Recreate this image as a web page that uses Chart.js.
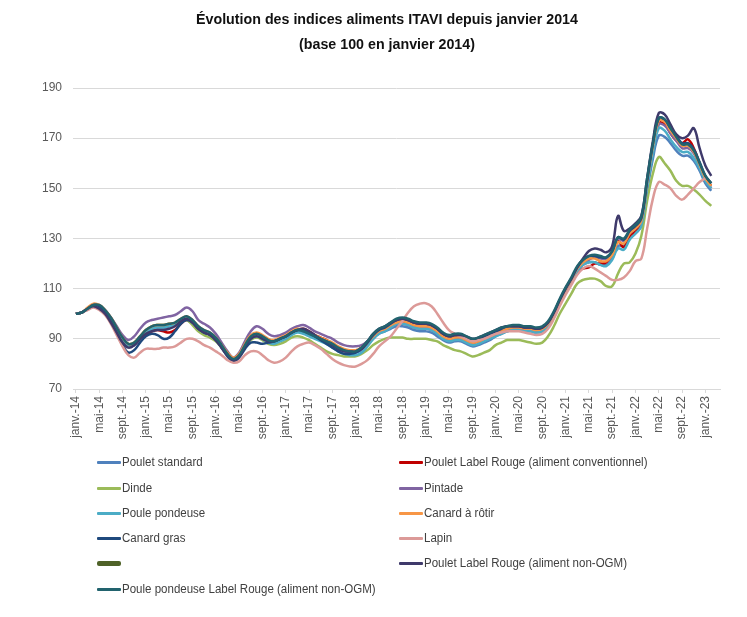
<!DOCTYPE html>
<html><head><meta charset="utf-8">
<script src="https://cdn.jsdelivr.net/npm/chart.js@4.4.0/dist/chart.umd.min.js"></script>
<style>
html,body{margin:0;padding:0;background:#fff;}
#wrap{position:relative;width:747px;height:617px;overflow:hidden;}
#c{position:absolute;left:0;top:0;}
#title{position:absolute;left:0;top:6px;width:774px;text-align:center;font-family:'Liberation Sans Narrow','Arial Narrow','Liberation Sans',sans-serif;font-weight:bold;font-size:15px;line-height:25px;color:#111;transform:scaleX(0.95);transform-origin:387px 0;}
.li{position:absolute;height:16px;font-family:'Liberation Sans Narrow','Arial Narrow','Liberation Sans',sans-serif;font-size:12px;color:#404040;white-space:nowrap;}
.li .sw{position:absolute;left:0;width:24px;}
.li .tx{position:absolute;left:25px;top:0;line-height:16px;transform:scaleX(0.96);transform-origin:0 0;}
</style></head>
<body><div id="wrap"><canvas id="c" width="747" height="617"></canvas>
<div id="title">Évolution des indices aliments ITAVI depuis janvier 2014<br>(base 100 en janvier 2014)</div>
<div id="legend"></div></div>
<script>
const monthNames = ['janv.','févr.','mars','avr.','mai','juin','juil.','août','sept.','oct.','nov.','déc.'];
const years = ['14','15','16','17','18','19','20','21','22','23'];
const categories = [];
years.forEach(y => monthNames.forEach(m => categories.push(m + '-' + y)));
categories.length = 111; // janv.-14 ... mars-23

const yTicks = [70, 90, 110, 130, 150, 170, 190];

const pouletStandard = [100,100.5,102,103,102.5,100.5,97.5,93.5,89.5,87,88,90.5,
93,94,94.5,94.5,95,95.5,97,98,96.5,94,92.5,91.5,
89.5,86.5,83.5,81.5,83,87,90.5,91.5,90.5,89,88.5,89.5,
90.5,92,93,92.5,91.5,90.5,89.5,88.5,87.5,86,85,84.5,
84.5,85.5,87.5,90,92,93,94,95,95,94.5,93.5,93,
93,92.5,91,89.5,88.5,89,89,88,87,87.5,88.5,89.5,
91,92,93,93.5,93.5,93,93,92.5,93,95,99,104,
108.5,112.5,117,119.5,120.5,120.5,119.5,119.5,122,127,127,130,
132,135,149,162,171,170.5,168,165,163,163,161,157,
152,149,null];

const pouletLRConv = [100,100.5,102,103.5,103,101,97.5,93.5,89.5,87,87.5,90,
92,93,93.5,93,92.5,93.5,96,97.5,96,94,92.5,91.5,
89.5,86.5,83.5,81.5,83.5,87.5,90.5,91.5,90.5,89,89,90,
91,92.5,93.5,94,93,91.5,90.5,89.5,88,86.5,85.5,85,
85,86,88,91,93,94,95.5,96.5,97,96.5,95.5,95,
95,94.5,93,91,90,90.5,90.5,89.5,88.5,89,90,91,
92,93,94,94.5,94.5,94,94,93.5,94,96,100,105,
109,113,117,118,118.5,120,120,120.5,124,129,126.5,131,
133,136,151,166,176,175.5,172,169,168,169.5,166,160,
154,151,null];

const dinde = [100,100.5,102,103.5,103,101,98,94,90,88,88.5,91,
93.5,95,95.5,95.5,96,96,97,97.5,95.5,93,91.5,90.5,
89,86.5,83.5,81.5,83,86.5,89.5,90.5,89.5,88,87.5,88,
89,90.5,91,90.5,89.5,88,86.5,85,84,83.5,83,83,
83,84,85.5,87.5,89,90,90.5,90.5,90.5,90,90,90,
90,89.5,89,87.5,86.5,85.5,85,84,83,83.5,84.5,85.5,
87.5,88.5,89.5,89.5,89.5,89,88.5,88,88.5,91,95,100,
104,108,112,113.5,114,114,113,111,111,116,120,120.5,
124,131,145,156,162.5,160,157,153,151,151,149.5,147.5,
145,143,null];

const pintade = [100,100.5,102,103.5,103,101.5,98.5,95,91.5,89.5,91,94,
96.5,97.5,98,98.5,99,99.5,101,102.5,101,97.5,96,94.5,
92,88.5,85,82.5,84.5,89,93,95,94,92,91,91.5,
92.5,94,95,95.5,94.5,93,92,91,90,88.5,87.5,87,
87,87.5,89,91.5,93,94,95,96,96,95.5,94.5,94,
94,93.5,92,90.5,89.5,90,90,89.5,88.5,89,90,91,
92,93,94,94,94,93.5,93.5,93,93.5,95.5,99.5,104.5,
109,113,117.5,120,121.5,122.5,122,122,124.5,130,129,132,
134,137,152,166,175.5,175,172,169,166,166,164,159,
153.5,150,null];

const poulePondeuse = [100,100.5,102,103,102.5,100.5,97.5,93.5,89.5,87,87.5,90,
92.5,94,94.5,94.5,95,95.5,97,98,96.5,94,92.5,91.5,
89.5,86.5,83.5,81.5,83,87,90,91,90,88.5,88,89,
90,91.5,92.5,92,91,90,89,88,86.5,85,84,83.5,
83.5,84.5,87,90,92,93,94.5,96,96,95.5,94.5,94,
94,93.5,92,90,89,89.5,89.5,88.5,87.5,88,89,90,
91,92,93,93.5,93.5,93,93,92.5,93,95,99,104,
108.5,112.5,117,119.5,120.5,120.5,119.5,119,121.5,126,125.5,129.5,
132,135,150,164,174,173,169.5,166.5,164.5,164.5,162,158,
153,150,null];

const canardRotir = [100,100.5,102.5,104,103.5,101.5,98.5,94.5,90.5,88,88.5,91,
93.5,95,95.5,95.5,96,96.5,98,99,97.5,95,93.5,92.5,
90.5,87.5,84.5,82.5,84,88,91.5,92.5,91.5,90,89.5,90.5,
91.5,93,94,93.5,92.5,91.5,90.5,89.5,88.5,87,86,85.5,
85.5,86.5,88.5,91,93,94,95.5,96.5,97,96.5,95.5,95,
95,94.5,93,91,90,90.5,90.5,89.5,88.5,89,90,91,
92,93,94,94.5,94.5,94,94,93.5,94,96,100,105,
109.5,113.5,118,120.5,122,122,121,121,123.5,128.5,128,132,
134,137,152.5,167,177,176.5,173,170,167,167,164.5,159.5,
154,151,null];

const canardGras = [100,100.5,102,103.5,103,100.5,97,92.5,87.5,84.5,85.5,88.5,
91,92,91.5,90,90.5,93,96,97.5,96.5,94,92.5,91.5,
89.5,86.5,83,81,82.5,86,88.5,88.5,88,88.5,89,90,
91,92.5,93.5,93.5,92.5,91,89.5,88,86.5,85,84,84,
84.5,86,88.5,91.5,93.5,94.5,96,97.5,98,97.5,96.5,96,
96,95.5,94,92,91,91.5,91.5,90.5,89.5,90,91,92,
93,94,95,95,95,94.5,94.5,94,94.5,96.5,100.5,105.5,
110,114,118.5,121.5,123,123,122.5,122.5,125,130.5,129.5,133,
135,138,153,168,178,177.5,174,171,168,168,165.5,160.5,
155,152,null];

const lapin = [100,100.5,101.5,102.5,101.5,99.5,96,91.5,87,83.5,82.5,84.5,
86,86,86,86.5,86.5,87,88.5,90,90,89,87.5,86.5,
85,83.5,81.5,80.5,81,83.5,85,85,83.5,81.5,80.5,81,
82.5,85,87,88,88.5,87.5,86,84,82,80.5,79.5,79,
79,80,81.5,84,87,89,91,94,97,100.5,103,104,
104.2,103,100,96.5,93.5,92,91,90,89,89.5,90,91,
92,92.5,93,93,93,92.5,92,91.5,92,94,98,103,
107.5,111.5,115.5,118,119,118,116.5,115,113.5,113.5,114.5,117,
121,122,134,146,152.5,151.5,150,147,145.5,147.5,150,152.5,
154,null,null];

const sansNom = [];

const pouletLRNonOGM = [100,100.5,102,103,102,100,96.5,92.5,88.5,86.5,87.5,90,
92,93,93.5,93.5,94,95,97,98,96.5,94,92.5,91.5,
89.5,86.5,83.5,81.5,83,87,90,91,90,89,89,90,
91,92.5,93.5,94,93,91.5,90,89,87.5,86,85,85,
85,86.5,89,92,94,95,96.5,97.5,98,97.5,96.5,96,
96,95.5,94,92,91,91.5,91.5,91,90,90.5,91.5,92.5,
93.5,94.5,95,95,95,94.5,94.5,94,94.5,96.5,100.5,105.5,
110,114,118.5,122,125,126,125.5,124.5,127,139,133,134,
136,139,154,169,180,179.5,175.5,171.5,170,171,174,166,
159,155,null];

const poulePondeuseLRNonOGM = [100,100.5,102,103.5,103.5,101.5,98.5,94.5,90.5,88,88.5,91,
93.5,95,95.5,95.5,96,96.5,98,99,97.5,95,93.5,92.5,
90.5,87.5,84,82,83.5,87.5,91,92,91,89.5,89,90,
91,92.5,93.5,93,92,91,90,89,88,86.5,85.5,85,
85,86.5,89,92,94,95,96.5,98,98.5,98,97,96.5,
96.5,96,94.5,92.5,91.5,92,92,91,90,90.5,91.5,92.5,
93.5,94.5,95,95.5,95.5,95,95,94.5,95,97,101,106,
110.5,114.5,119,121.5,123,123.5,123,122.5,125,130.5,130,133.5,
135.5,138.5,154,168,178,177.5,174,170.5,167.5,167.5,165,160,
155,152,null];

const seriesNames = ['Poulet standard','Poulet Label Rouge (aliment conventionnel)','Dinde','Pintade','Poule pondeuse','Canard à rôtir','Canard gras','Lapin','','Poulet Label Rouge (aliment non-OGM)','Poule pondeuse Label Rouge (aliment non-OGM)'];
const seriesData = [pouletStandard,pouletLRConv,dinde,pintade,poulePondeuse,canardRotir,canardGras,lapin,sansNom,pouletLRNonOGM,poulePondeuseLRNonOGM];
const seriesColors = ['#4f81bd','#c00000','#9bbb59','#8064a2','#4bacc6','#f79646','#1f497d','#dc9a98','#4f6228','#3f3a6b','#22636e'];

const FONT = "'Liberation Sans Narrow','Arial Narrow','Liberation Sans',sans-serif";

const datasets = seriesNames.map((n, i) => ({
  label: n,
  data: seriesData[i],
  borderColor: seriesColors[i],
  backgroundColor: seriesColors[i],
  borderWidth: 2.5,
  pointRadius: 0,
  tension: 0.4,
  fill: false,
  spanGaps: false,
  order: seriesNames.length - i
}));

new Chart(document.getElementById('c'), {
  type: 'line',
  data: { labels: categories, datasets },
  options: {
    responsive: false,
    animation: false,
    layout: { padding: { top: 88, right: 27, bottom: 0, left: 0 } },
    plugins: { legend: { display: false }, title: { display: false }, tooltip: { enabled: false } },
    scales: {
      x: {
        type: 'category',
        offset: true,
        grid: { display: true, drawOnChartArea: false, tickLength: 4,
                color: c => (c.index % 4 === 0 ? '#d9d9d9' : 'rgba(0,0,0,0)') },
        border: { color: '#d9d9d9', width: 1 },
        ticks: { autoSkip: false, maxRotation: 90, minRotation: 90, padding: 3,
                 color: '#595959', font: { family: FONT, size: 12 },
                 callback: (v, i) => (i % 4 === 0 ? categories[i] : '') },
        afterFit: s => { s.height = 228; }
      },
      y: {
        min: 70, max: 190,
        afterBuildTicks: s => { s.ticks = yTicks.map(v => ({ value: v })); },
        grid: { color: '#d9d9d9', drawTicks: false },
        border: { display: false },
        ticks: { padding: 11, color: '#595959', font: { family: FONT, size: 12 } },
        afterFit: s => { s.width = 73; }
      }
    }
  }
});

// HTML legend
const legend = document.getElementById('legend');
const rowY = [462, 488, 513, 538, 563, 589];
const colX = [97, 399];
seriesNames.forEach((n, i) => {
  const r = Math.floor(i / 2), col = i % 2;
  const d = document.createElement('div');
  d.className = 'li';
  d.style.left = colX[col] + 'px';
  d.style.top = (rowY[r] - 8) + 'px';
  const sw = document.createElement('span');
  sw.className = 'sw';
  const h = n === '' ? 5 : 3;
  sw.style.height = h + 'px';
  sw.style.top = (8 - h / 2) + 'px';
  sw.style.background = seriesColors[i];
  sw.style.borderRadius = n === '' ? '2px' : '1px';
  const tx = document.createElement('span');
  tx.className = 'tx';
  tx.textContent = n;
  d.appendChild(sw); d.appendChild(tx);
  legend.appendChild(d);
});
</script></body></html>
